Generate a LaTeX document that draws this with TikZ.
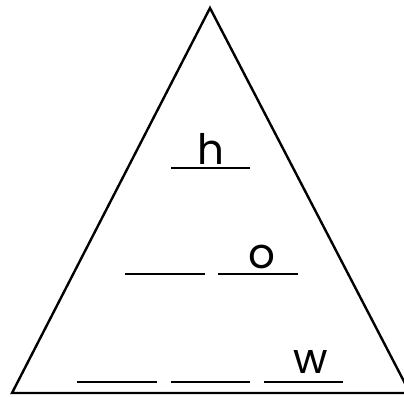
\documentclass[tikz,border=0pt]{standalone}
\usepackage{fontspec}
\setmainfont{Poppins}
\begin{document}
\begin{tikzpicture}[x=1pt,y=-1pt,
  blank/.style={line width=2.6pt},
  letter/.style={inner sep=0pt,anchor=base,font=\fontsize{42}{42}\selectfont}]
\useasboundingbox (0,0) rectangle (404,396);
\draw[line width=2.4pt,line join=miter] (210,8) -- (12,393) -- (410,393) -- cycle;
% row 1
\draw[blank] (171,168) -- (250,168);
\node[letter] (h) at (211,164) {h};
% row 2
\draw[blank] (125,274) -- (205,274);
\draw[blank] (218,274) -- (298,274);
\node[letter] (o) at (262,268) {o};
% row 3
\draw[blank] (77,382) -- (157,382);
\draw[blank] (171,382) -- (250,382);
\draw[blank] (264,382) -- (343,382);
\node[letter] (w) at (311,373) {w};
\end{tikzpicture}
\end{document}
